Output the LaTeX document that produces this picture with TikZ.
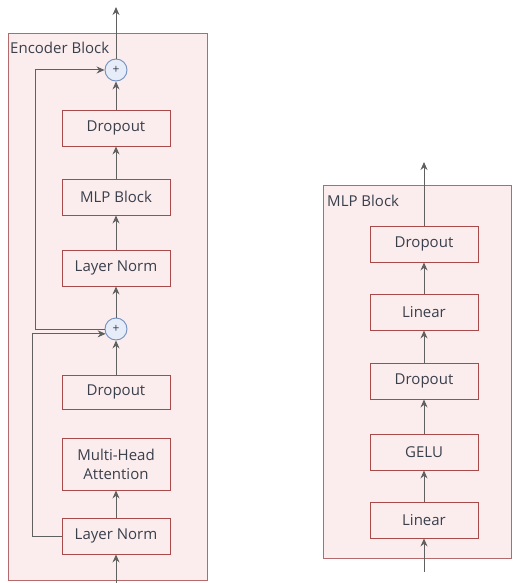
\documentclass[tikz,border=0pt]{standalone}
\usepackage{fontspec}
\setmainfont{Open Sans}
\usepackage{tikz}
\usetikzlibrary{arrows.meta,%
                positioning}

\definecolor{panelfill}{HTML}{FBEDED}
\definecolor{paneldraw}{HTML}{B46A6A}
\definecolor{boxdraw}{HTML}{A84A4A}
\definecolor{addfill}{HTML}{E6EDF8}
\definecolor{adddraw}{HTML}{7290BE}
\definecolor{flowcol}{HTML}{606060}
\definecolor{txtcol}{HTML}{3A3F4C}

\begin{document}
\begin{tikzpicture}[x=1pt,y=-1pt,
    font=\fontsize{15}{17}\selectfont, text=txtcol,
    panel/.style={draw=paneldraw, fill=panelfill, line width=0.9pt},
    layer/.style={draw=boxdraw, fill=panelfill, line width=0.9pt,
                  minimum width=108pt, minimum height=36pt, inner sep=0pt, align=center},
    addop/.style={circle, draw=adddraw, fill=addfill, line width=0.9pt,
                  minimum size=22pt, inner sep=0pt, font=\fontsize{12}{14}\selectfont},
    flow/.style={draw=flowcol, line width=1pt, -{Stealth[length=8pt,width=7pt]}}]
\useasboundingbox (0,0) rectangle (512,583);

% encoder
\draw[panel] (8,33) rectangle (207,580);
\node[anchor=north west, inner sep=0pt] (enctitle) at (10,42) {Encoder Block};
\node[addop] (addB) at (116,70) {+};
\node[layer] (dropB) at (116,128) {Dropout};
\node[layer] (mlp) at (116,197) {MLP Block};
\node[layer] (normB) at (116,268) {Layer Norm};
\node[addop] (addA) at (116,329) {+};
\node[layer, minimum height=34pt] (dropA) at (116,392) {Dropout};
\node[layer, minimum height=52pt] (mha) at (116,464) {Multi-Head\\[2pt]Attention};
\node[layer] (normA) at (116,536) {Layer Norm};
\coordinate (encin) at (116,583);
\coordinate (encout) at (116,7);

\draw[flow] (encin) -- (normA);
\draw[flow] (normA) -- (mha);
\draw[flow] (dropA) -- (addA);
\draw[flow] (addA) -- (normB);
\draw[flow] (normB) -- (mlp);
\draw[flow] (mlp) -- (dropB);
\draw[flow] (dropB) -- (addB);
\draw[flow] (addB) -- (encout);
% residual paths
\draw[flow] (normA.west) -- ++(-29,0) |- (addA.205);
\draw[flow] (addA.west) -- ++(-69,0) |- (addB.west);

% mlp
\draw[panel] (323,185) rectangle (511.5,558);
\node[anchor=north west, inner sep=0pt] (mlptitle) at (327,195) {MLP Block};
\node[layer] (dropD) at (424,244) {Dropout};
\node[layer] (linD) at (424,312) {Linear};
\node[layer] (dropC) at (424,381) {Dropout};
\node[layer] (gelu) at (424,452) {GELU};
\node[layer] (linC) at (424,520) {Linear};
\coordinate (mlpin) at (424,572);
\coordinate (mlpout) at (424,162);

\draw[flow] (mlpin) -- (linC);
\draw[flow] (linC) -- (gelu);
\draw[flow] (gelu) -- (dropC);
\draw[flow] (dropC) -- (linD);
\draw[flow] (linD) -- (dropD);
\draw[flow] (dropD) -- (mlpout);
\end{tikzpicture}
\end{document}
